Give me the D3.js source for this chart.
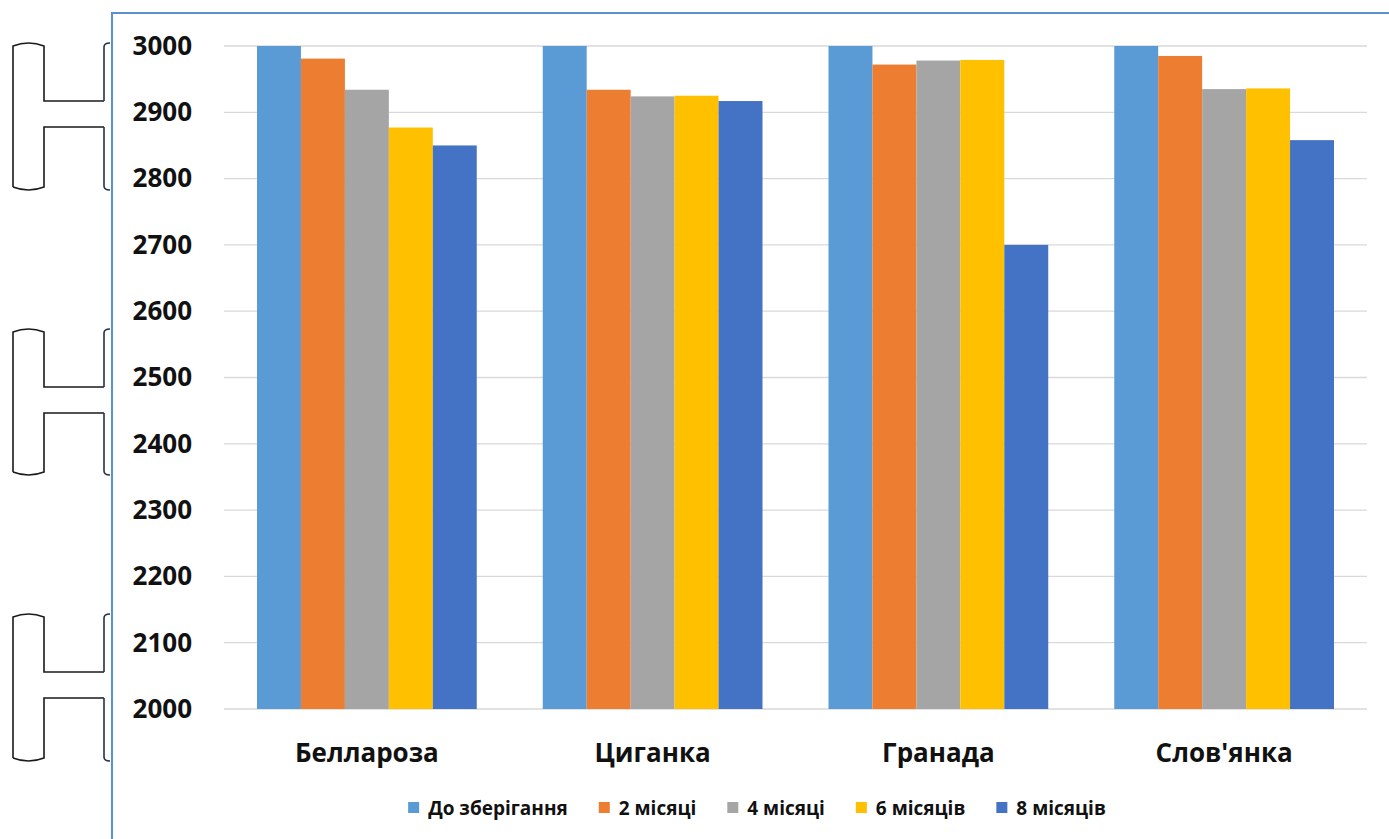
<!DOCTYPE html>
<html>
<head>
<meta charset="utf-8">
<script src="https://cdn.jsdelivr.net/npm/d3@7"></script>
<style>
  html, body { margin: 0; padding: 0; background: #fff; }
  svg { display: block; }
  text { font-family: "Open Sans", "Liberation Sans", sans-serif; font-weight: 700; fill: #111; }
</style>
</head>
<body>
<svg id="chart" width="1389" height="839"></svg>
<script>
// Potato varieties and storage periods
const varieties = ["Беллароза", "Циганка", "Гранада", "Слов'янка"];
const periods = ["До зберігання", "2 місяці", "4 місяці", "6 місяців", "8 місяців"];
const periodColors = ["#5B9BD5", "#ED7D31", "#A5A5A5", "#FFC000", "#4472C4"];

// Values per variety, one entry per storage period
const bellaroza = [3000, 2981, 2934, 2877, 2850];
const tsyhanka  = [3000, 2934, 2924, 2925, 2917];
const hranada   = [3000, 2972, 2978, 2979, 2700];
const slovianka = [3000, 2985, 2935, 2936, 2858];
const seriesByVariety = [bellaroza, tsyhanka, hranada, slovianka];

const yTicks = [2000, 2100, 2200, 2300, 2400, 2500, 2600, 2700, 2800, 2900, 3000];

const svg = d3.select("#chart");

// Frame lines (left and top)
const frameColor = "#5B8FD0";
svg.append("line").attr("x1", 112).attr("x2", 112).attr("y1", 12).attr("y2", 839)
  .attr("stroke", frameColor).attr("stroke-width", 2);
svg.append("line").attr("x1", 112).attr("x2", 1389).attr("y1", 13).attr("y2", 13)
  .attr("stroke", frameColor).attr("stroke-width", 2);

// Bracket ornaments on the left margin
const brackets = [
  {t: 43, h1: 101, h2: 127, b: 190},
  {t: 329, h1: 387, h2: 413, b: 475},
  {t: 614, h1: 672, h2: 698, b: 761}
];
const orn = svg.append("g").attr("fill", "none").attr("stroke", "#1a1a1a").attr("stroke-width", 1.6);
brackets.forEach(k => {
  orn.append("path").attr("d",
    `M13,${k.b - 3} L13,${k.t + 3} Q28.5,${k.t - 3} 44,${k.t + 3} L44,${k.h1} L104,${k.h1}`);
  orn.append("path").attr("d",
    `M104,${k.h2} L44,${k.h2} L44,${k.b - 3} Q28.5,${k.b + 3} 13,${k.b - 3}`);
  orn.append("path").attr("stroke", "#23324a").attr("d",
    `M110,${k.t} Q104,${k.t} 104,${k.t + 4} L104,${k.h1}`);
  orn.append("path").attr("stroke", "#23324a").attr("d",
    `M104,${k.h2} L104,${k.b - 4} Q104,${k.b} 110,${k.b}`);
});

// Plot area
const plot = {left: 224, right: 1367, top: 46, bottom: 709};

const x0 = d3.scaleBand().domain(varieties).range([plot.left, plot.right])
  .paddingInner(0.231).paddingOuter(0.1155);
const x1 = d3.scaleBand().domain(periods).range([0, x0.bandwidth()]);
const y = d3.scaleLinear().domain([2000, 3000]).range([plot.bottom, plot.top]);

// Gridlines
svg.append("g").selectAll("line").data(yTicks).join("line")
  .attr("x1", plot.left).attr("x2", plot.right)
  .attr("y1", d => y(d)).attr("y2", d => y(d))
  .attr("stroke", "#D9D9D9").attr("stroke-width", 1.3);

// Y axis labels
const yAxis = d3.axisLeft(y).tickValues(yTicks).tickSize(0).tickPadding(0).tickFormat(d3.format("d"));
const gy = svg.append("g").attr("transform", "translate(192,0)").call(yAxis);
gy.select(".domain").remove();
gy.selectAll("text").attr("font-size", 26).attr("fill", "#111")
  .style("font-family", "'Open Sans', sans-serif").style("font-weight", 700);

// Bars
const groups = svg.append("g").selectAll("g").data(varieties).join("g")
  .attr("transform", d => `translate(${x0(d)},0)`);
groups.selectAll("rect")
  .data((d, i) => seriesByVariety[i].map((v, j) => ({period: periods[j], value: v, color: periodColors[j]})))
  .join("rect")
  .attr("x", d => x1(d.period))
  .attr("width", x1.bandwidth())
  .attr("y", d => y(d.value))
  .attr("height", d => y(2000) - y(d.value))
  .attr("fill", d => d.color);

// Category labels
const xAxis = d3.axisBottom(x0).tickSize(0).tickPadding(0);
const gx = svg.append("g").attr("transform", `translate(0,${plot.bottom})`).call(xAxis);
gx.select(".domain").remove();
gx.selectAll("text").attr("font-size", 26).attr("fill", "#111").attr("dy", 0).attr("y", 53)
  .style("font-family", "'Open Sans', sans-serif").style("font-weight", 700);

// Legend
const legend = svg.append("g");
const legendY = 808;
const items = legend.selectAll("g").data(periods).join("g");
items.append("rect").attr("width", 11).attr("height", 11).attr("y", legendY - 6)
  .attr("fill", (d, i) => periodColors[i]);
items.append("text").attr("x", 20).attr("y", legendY).attr("dy", "0.35em")
  .attr("font-size", 19).text(d => d);
let cursor = 0;
const gap = 31;
items.each(function () {
  const w = this.getBBox().width;
  d3.select(this).attr("transform", `translate(${cursor},0)`);
  cursor += w + gap;
});
const total = cursor - gap;
legend.attr("transform", `translate(${757 - total / 2},0)`);
</script>
</body>
</html>
